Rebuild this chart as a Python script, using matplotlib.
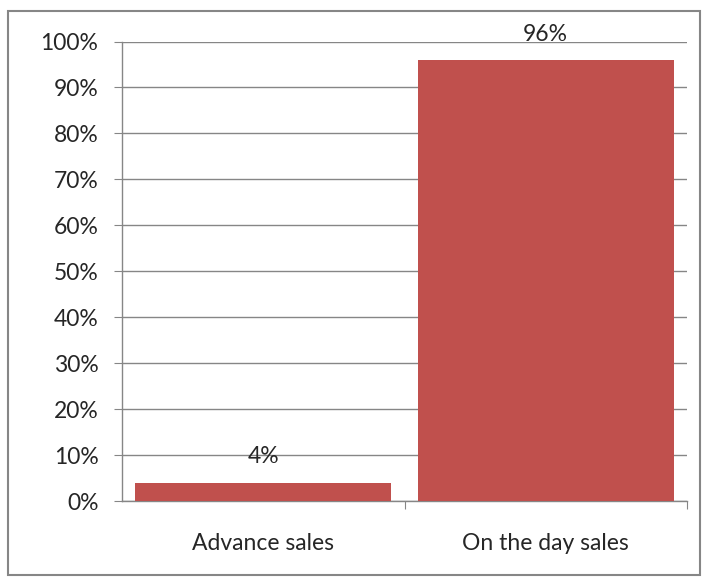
import matplotlib
matplotlib.use("Agg")
import matplotlib.pyplot as plt
from matplotlib.patches import Rectangle
from matplotlib.ticker import MultipleLocator, PercentFormatter

# ── Data ──────────────────────────────────────────────
categories = ["Advance sales", "On the day sales"]
shares = [4, 96]          # percent of tickets
labels = ["4%", "96%"]

BAR_COLOR  = "#C0504D"
GRID_COLOR = "#868686"
TEXT_COLOR = "#262626"
FONT_SIZE  = 16.5

plt.rcParams["font.family"] = ["Lato", "DejaVu Sans"]

fig = plt.figure(figsize=(7.07, 5.81), dpi=100)
fig.patch.set_facecolor("white")

# chart frame
fig.patches.append(Rectangle((8 / 707, 6 / 581), 692 / 707, 564 / 581,
                             transform=fig.transFigure, fill=False,
                             edgecolor=GRID_COLOR, linewidth=1.5))

ax = fig.add_axes([122 / 707, 80 / 581, 565 / 707, 459.5 / 581])
x = range(len(categories))
ax.bar(x, shares, width=0.905, color=BAR_COLOR, zorder=3)

for xi, v, lab in zip(x, shares, labels):
    ax.annotate(lab, (xi, v), xytext=(0, 18.5), textcoords="offset points",
                ha="center", va="center", fontsize=FONT_SIZE,
                color=TEXT_COLOR, zorder=4)

ax.set_xlim(-0.5, 1.5)
ax.set_ylim(0, 100)
ax.yaxis.set_major_locator(MultipleLocator(10))
ax.yaxis.set_major_formatter(PercentFormatter(decimals=0))
ax.grid(axis="y", color=GRID_COLOR, linewidth=1, zorder=0)

ax.set_xticks([0.5, 1.5], minor=False)
ax.set_xticklabels([])
ax.set_xticks(list(x), minor=True)
ax.set_xticklabels(categories, minor=True)
ax.tick_params(axis="x", which="major", length=6, color=GRID_COLOR,
               direction="out")
ax.tick_params(axis="x", which="minor", length=0, pad=23,
               labelsize=FONT_SIZE, labelcolor=TEXT_COLOR)
ax.tick_params(axis="y", length=6, color=GRID_COLOR, pad=11,
               labelsize=FONT_SIZE, labelcolor=TEXT_COLOR)

for side in ("top", "right"):
    ax.spines[side].set_visible(False)
for side in ("left", "bottom"):
    ax.spines[side].set_color(GRID_COLOR)
    ax.spines[side].set_linewidth(1)

fig.savefig("out.png", dpi=100)
